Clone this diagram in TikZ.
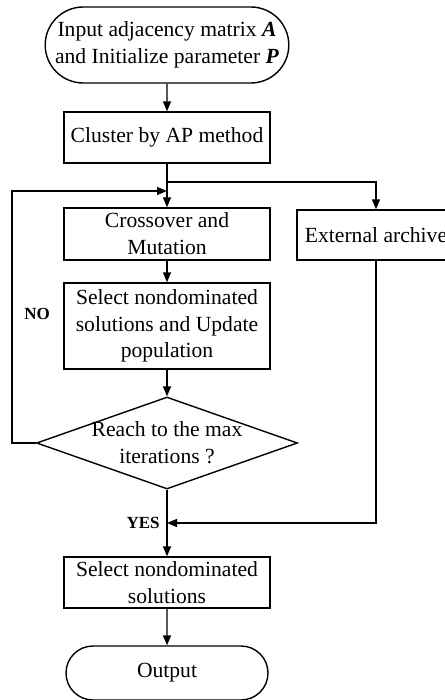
\documentclass[tikz,border=0pt]{standalone}
\usepackage{fontspec}
\setmainfont{Liberation Serif}
\usetikzlibrary{positioning,arrows.meta,shapes.geometric,shapes.misc}

\tikzset{
  procbox/.style={draw,line width=0.7pt,rectangle,minimum width=103pt,
    minimum height=25.5pt,inner sep=1pt,align=center},
  termbox/.style={draw,line width=0.7pt,rounded rectangle,minimum width=103pt,
    minimum height=27pt,inner sep=1pt,align=center},
  flow/.style={line width=0.7pt,-{Triangle[length=5pt,width=4pt]}},
  tag/.style={font=\fontsize{8.5}{10}\selectfont\bfseries}
}

\begin{document}
\begin{tikzpicture}[x=0.5pt,y=-0.5pt,
  font=\fontsize{10.8}{13.4}\selectfont]
  \useasboundingbox (0,0) rectangle (444,700);
  \def\cx{167}   % main column
  % main column
  \node[termbox,minimum width=121pt,minimum height=38pt] (start) at (\cx,45)
    {Input adjacency matrix \textbf{\textit{A}}\\and Initialize parameter \textbf{\textit{P}}};
  \node[procbox] (cluster) at (\cx,137.5) {Cluster by AP method};
  \node[procbox,minimum height=26pt] (cross) at (\cx,234) {Crossover and\\Mutation};
  \node[procbox,minimum width=79pt,minimum height=25pt] (archive) at (376,235) {External archive};
  \node[procbox,minimum height=43pt] (select) at (\cx,326)
    {Select nondominated\\solutions and Update\\population};
  \node[draw,line width=0.7pt,diamond,minimum width=130.5pt,minimum height=46pt,
    inner sep=0pt] (reach) at (\cx,443) {};
  \node[align=center] (reachtxt) at (reach.center) {Reach to the max\\iterations ?};
  \node[procbox] (final) at (\cx,582.5) {Select nondominated\\solutions};
  \node[termbox] (output) at (\cx,673) {Output};
  % joints
  \coordinate (split) at (\cx,182);
  \coordinate (back) at (\cx,191);
  \coordinate (merge) at (\cx,523);
  \coordinate (corner) at (12,443);
  % connectors
  \draw[flow] (start) -- (cluster);
  \draw[flow] (cluster) -- (cross);
  \draw[flow] (split) -| (archive);
  \draw[flow] (cross) -- (select);
  \draw[flow] (select) -- (reach);
  \draw[flow] (reach) -- (final);
  \draw[flow] (final) -- (output);
  \draw[flow] (reach.west) -- (corner) |- (back);
  \draw[flow] (archive) |- (merge);
  % branch labels
  \node[tag] (no) at (37,314) {NO};
  \node[tag,anchor=east,inner sep=1pt] (yes) at (162,523) {YES};
\end{tikzpicture}
\end{document}
